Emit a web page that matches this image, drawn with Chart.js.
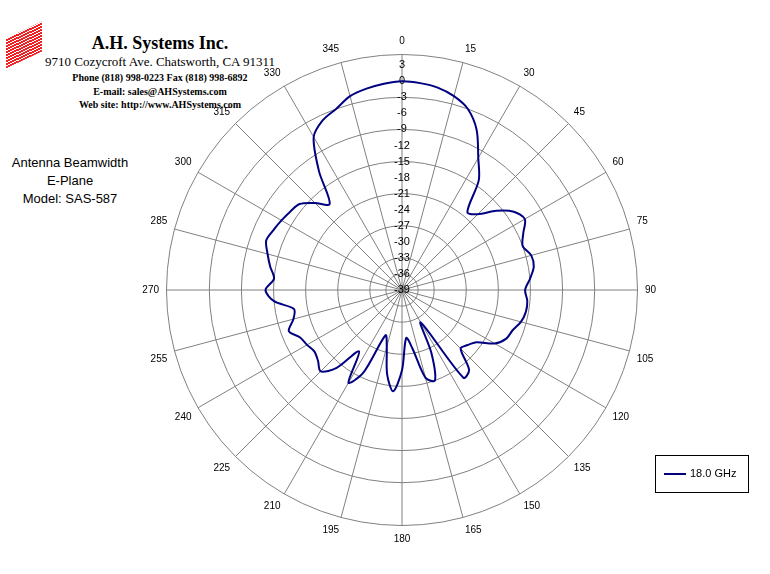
<!DOCTYPE html>
<html>
<head>
<meta charset="utf-8">
<script src="https://cdn.jsdelivr.net/npm/chart.js@4"></script>
<style>
  body { margin: 0; width: 770px; height: 574px; background: #fff; position: relative; overflow: hidden; }
  #wrap { position: absolute; left: 112px; top: 27px; width: 580px; height: 518px; }
  .hdr { position: absolute; font-family: "Liberation Serif", serif; font-weight: bold; text-align: center; color: #000; }
  .side { position: absolute; left: 0; top: 154px; width: 140px; font-family: "Liberation Sans", Arial, sans-serif; font-size: 13px; text-align: center; line-height: 18px; }
  #legend { position: absolute; left: 655px; top: 455px; width: 92px; height: 36px; border: 1px solid #000; font-family: "Liberation Sans", Arial, sans-serif; font-size: 11px; }
  #legend span.l { position: absolute; left: 8px; top: 17px; width: 22px; border-top: 2px solid #000080; }
  #legend span.t { position: absolute; left: 34px; top: 11px; }
  #logo { position: absolute; left: 6px; top: 30px; width: 36px; height: 30px; background: repeating-linear-gradient(0deg, #e22 0 2px, #fff 2px 3px); transform: skewY(-25deg); }
</style>
</head>
<body>
<div id="logo"></div>
<div class="hdr" style="left:40px;top:33px;width:240px;font-size:18px;">A.H. Systems Inc.</div>
<div class="hdr" style="left:30px;top:54px;width:260px;font-size:13px;font-weight:normal;">9710 Cozycroft Ave. Chatsworth, CA 91311</div>
<div class="hdr" style="left:30px;top:72px;width:260px;font-size:10px;">Phone (818) 998-0223 Fax (818) 998-6892</div>
<div class="hdr" style="left:30px;top:86px;width:260px;font-size:10px;">E-mail: sales@AHSystems.com</div>
<div class="hdr" style="left:30px;top:99px;width:260px;font-size:10px;">Web site: http://www.AHSystems.com</div>
<div class="side">Antenna Beamwidth<br>E-Plane<br>Model: SAS-587</div>
<div id="wrap"><canvas id="polar"></canvas></div>
<div id="legend"><span class="l"></span><span class="t">18.0 GHz</span></div>
<script>
// angles every 5 degrees, labels shown every 15
const angles = [];
for (let a = 0; a < 360; a += 5) angles.push(a);

// measured level in dB at each angle (18.0 GHz, E-plane)
const gain18 = [
  0, -0.2, -0.6, -1.5, -3, -6, -10.5, -14, -20, -19, -16, -13.5,
  -12.5, -14, -15, -14, -14, -15, -16, -15.5, -15.5, -16, -17, -17.5,
  -19, -22, -23, -23.5, -19.5, -19, -32, -26, -21, -22, -28, -30,
  -24, -20, -23, -28, -30, -22, -19, -25, -20, -17.5, -18.5, -19,
  -18.5, -18, -16.5, -18, -18.5, -15, -13.5, -15, -14, -13, -12, -12.5,
  -13, -13.5, -14, -16, -18, -12, -6, -4, -3, -1.5, -0.8, -0.3
];

const gridLevels = [-36, -33, -27, -21, -15, -9, -3, 5];

new Chart(document.getElementById('polar'), {
  type: 'radar',
  data: {
    labels: angles.map(String),
    datasets: [{
      label: '18.0 GHz',
      data: gain18,
      borderColor: '#000080',
      borderWidth: 2,
      pointRadius: 0,
      fill: false,
      tension: 0.3
    }]
  },
  options: {
    responsive: true,
    maintainAspectRatio: false,
    animation: false,
    layout: { padding: { top: 8, bottom: 0 } },
    plugins: { legend: { display: false }, tooltip: { enabled: false } },
    scales: {
      r: {
        min: -39,
        max: 5,
        ticks: {
          stepSize: 3,
          showLabelBackdrop: false,
          color: '#000',
          font: { family: 'Liberation Sans', size: 11 },
          callback: function(v) { return v > 3 ? '' : v; }
        },
        grid: {
          color: function(ctx) { return gridLevels.includes(ctx.tick.value) ? '#808080' : 'rgba(0,0,0,0)'; }
        },
        angleLines: {
          color: function(ctx) { return ctx.index % 3 === 0 ? '#808080' : 'rgba(0,0,0,0)'; }
        },
        pointLabels: {
          color: '#000',
          padding: 0,
          font: { family: 'Liberation Sans', size: 10 },
          callback: function(l, i) { return i % 3 === 0 ? l : ''; }
        }
      }
    }
  }
});
</script>
</body>
</html>
